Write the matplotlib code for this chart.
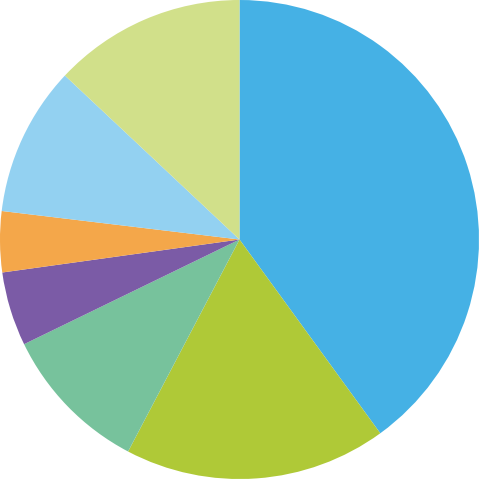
import matplotlib
matplotlib.use("Agg")
import matplotlib.pyplot as plt

# slice shares, clockwise from 12 o'clock
labels = ["A", "B", "C", "D", "E", "F", "G"]
values = [40.0, 17.7, 10.1, 5.0, 4.1, 10.1, 13.0]
colors = ["#45b1e5", "#afc937", "#77c29c", "#7b5ba6", "#f4a74a", "#93d1f1", "#d1e08a"]

fig = plt.figure(figsize=(4.79, 4.81), dpi=100)
ax = fig.add_axes([0, 0, 1, 1])
ax.pie(values, colors=colors, startangle=90, counterclock=False,
       radius=1.0, wedgeprops={"linewidth": 0})
ax.set_aspect("equal")
ax.set_xlim(-1.0, 1.0)
ax.set_ylim(-1.0, 1.0)
ax.axis("off")
fig.savefig("out.png", dpi=100)
